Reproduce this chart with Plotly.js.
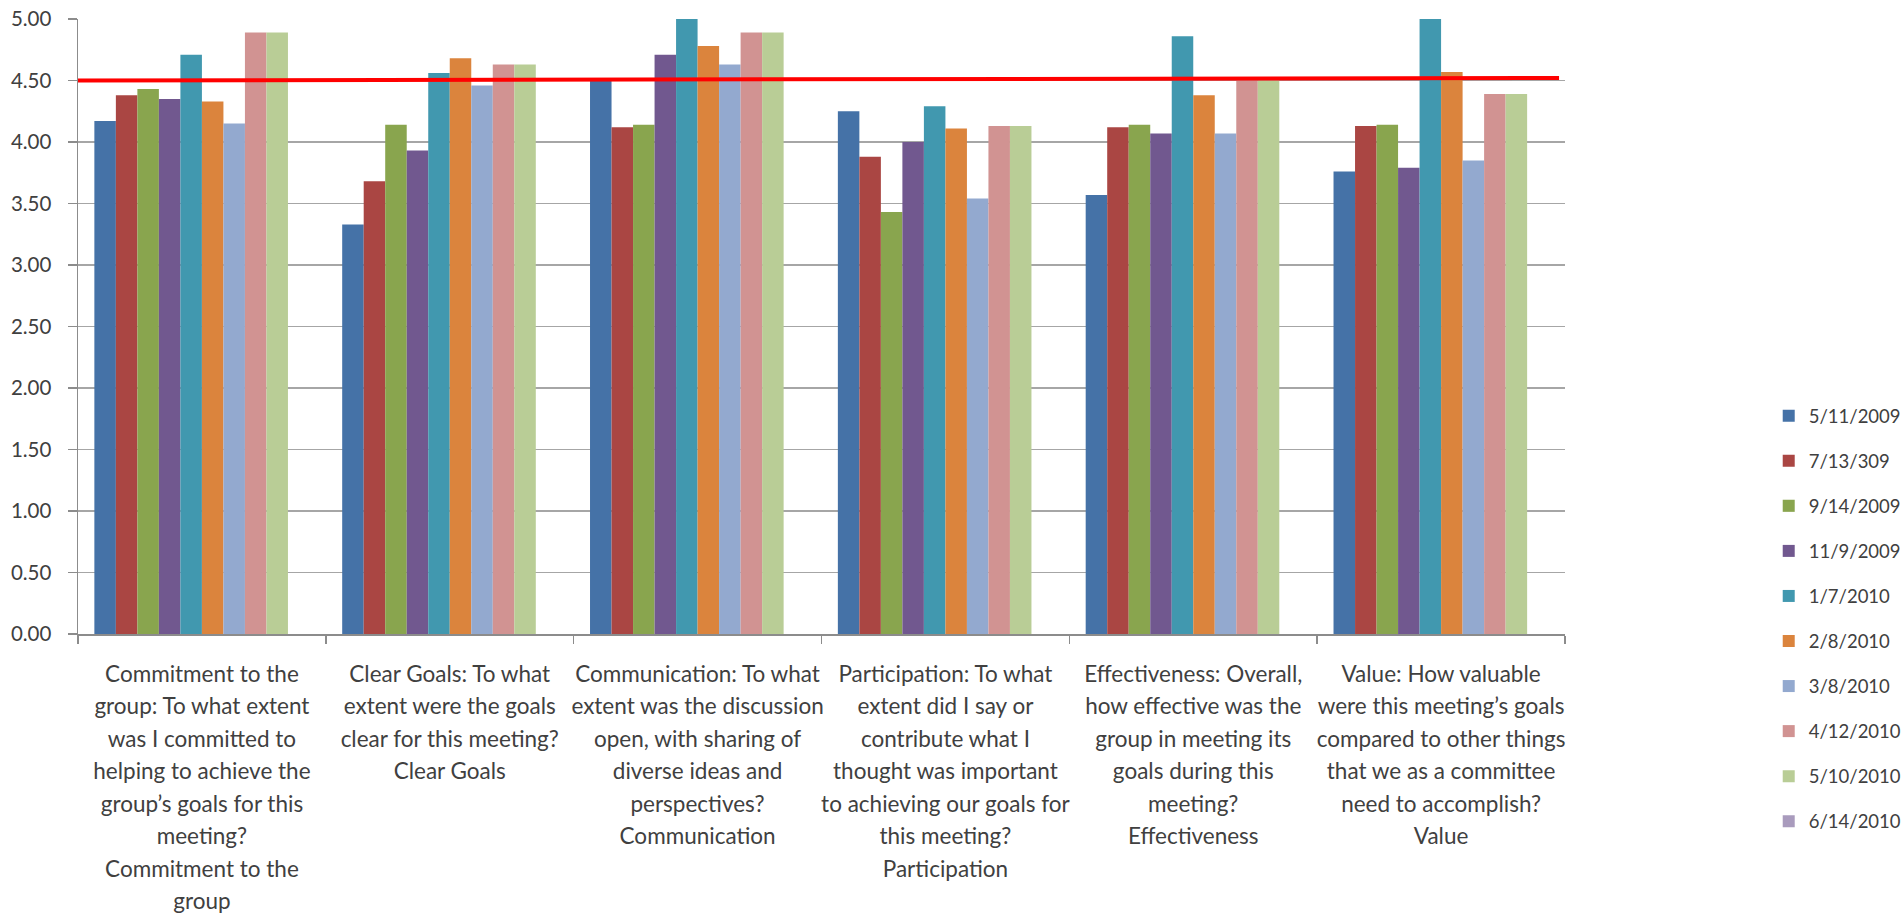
<!DOCTYPE html>
<html>
<head>
<meta charset="utf-8">
<script src="https://cdn.plot.ly/plotly-3.0.1.min.js"></script>
<style>
  html, body { margin: 0; padding: 0; background: #ffffff; }
  #chart { width: 1901px; height: 918px; }
</style>
</head>
<body>
<div id="chart"></div>
<script>
// Survey questions (category axis), one entry per wrapped line
const categoryLines = [
  ["Commitment to the", "group: To what extent", "was I committed to", "helping to achieve the",
   "group’s goals for this", "meeting?", "Commitment to the", "group"],
  ["Clear Goals: To what", "extent were the goals", "clear for this meeting?", "Clear Goals"],
  ["Communication: To what", "extent was the discussion", "open, with sharing of",
   "diverse ideas and", "perspectives?", "Communication"],
  ["Participation: To what", "extent did I say or", "contribute what I", "thought was important",
   "to achieving our goals for", "this meeting?", "Participation"],
  ["Effectiveness: Overall,", "how effective was the", "group in meeting its",
   "goals during this", "meeting?", "Effectiveness"],
  ["Value: How valuable", "were this meeting’s goals", "compared to other things",
   "that we as a committee", "need to accomplish?", "Value"]
];

// Meeting dates (legend labels)
const meetingDates = ["5/11/2009", "7/13/309", "9/14/2009", "11/9/2009", "1/7/2010",
                      "2/8/2010", "3/8/2010", "4/12/2010", "5/10/2010", "6/14/2010"];

// Average scores per meeting, one value per question
const scores_2009_05_11 = [4.17, 3.33, 4.50, 4.25, 3.57, 3.76];
const scores_2009_07_13 = [4.38, 3.68, 4.12, 3.88, 4.12, 4.13];
const scores_2009_09_14 = [4.43, 4.14, 4.14, 3.43, 4.14, 4.14];
const scores_2009_11_09 = [4.35, 3.93, 4.71, 4.00, 4.07, 3.79];
const scores_2010_01_07 = [4.71, 4.56, 5.00, 4.29, 4.86, 5.00];
const scores_2010_02_08 = [4.33, 4.68, 4.78, 4.11, 4.38, 4.57];
const scores_2010_03_08 = [4.15, 4.46, 4.63, 3.54, 4.07, 3.85];
const scores_2010_04_12 = [4.89, 4.63, 4.89, 4.13, 4.50, 4.39];
const scores_2010_05_10 = [4.89, 4.63, 4.89, 4.13, 4.50, 4.39];
const scores_2010_06_14 = [null, null, null, null, null, null];

// Target line level (start, end)
const targetLine = [4.50, 4.52];

// Y axis ticks
const yTicks = [0, 0.5, 1, 1.5, 2, 2.5, 3, 3.5, 4, 4.5, 5];

// Category keys: lines joined; the inner span keeps glyphs smaller than the line pitch
const categories = categoryLines.map(lines =>
  lines.map(l => '<span style="font-size:22.5px">' + l + '</span>').join("<br>"));

const allScores = [scores_2009_05_11, scores_2009_07_13, scores_2009_09_14, scores_2009_11_09,
                   scores_2010_01_07, scores_2010_02_08, scores_2010_03_08, scores_2010_04_12,
                   scores_2010_05_10, scores_2010_06_14];

const palette = ["#4572A7", "#AA4643", "#89A54E", "#71588F", "#4198AF",
                 "#DB843D", "#93A9CF", "#D19392", "#B9CD96", "#A99BBD"];

const traces = meetingDates.map((name, i) => ({
  type: "bar",
  name: name,
  legendgroup: name,
  x: categories,
  y: allScores[i],
  marker: { color: palette[i], line: { width: 0 } },
  hoverinfo: "name+y"
}));

const axisGrey = "#8c8c8c";
const textColor = "#404040";

const layout = {
  width: 1901,
  height: 918,
  margin: { l: 78, r: 336, t: 19, b: 284, pad: 0, autoexpand: false },
  paper_bgcolor: "#ffffff",
  plot_bgcolor: "#ffffff",
  font: { family: "Lato, 'Open Sans', sans-serif", color: textColor },
  barmode: "group",
  bargap: 0.132,
  bargroupgap: 0,
  showlegend: true,
  xaxis: {
    type: "category",
    automargin: false,
    showgrid: false,
    zeroline: false,
    showline: true,
    linecolor: axisGrey,
    linewidth: 1.5,
    ticks: "outside",
    tickson: "boundaries",
    ticklen: 8,
    tickwidth: 1.5,
    tickcolor: axisGrey,
    tickangle: 0,
    ticklabelstandoff: 16,
    tickfont: { size: 25, color: textColor }
  },
  yaxis: {
    range: [0, 5],
    automargin: false,
    tickmode: "array",
    tickvals: yTicks,
    tickformat: ".2f",
    showgrid: true,
    gridcolor: "#a6a6a6",
    gridwidth: 1.5,
    zeroline: false,
    showline: true,
    linecolor: axisGrey,
    linewidth: 1.5,
    ticks: "outside",
    ticklen: 9,
    tickwidth: 1.5,
    tickcolor: axisGrey,
    ticklabelstandoff: 12,
    tickfont: { size: 20.5, color: textColor }
  },
  legend: {
    x: 1.137,
    xanchor: "left",
    y: 0.385,
    yanchor: "top",
    traceorder: "grouped",
    tracegroupgap: 18,
    font: { size: 18.5, color: textColor },
    bgcolor: "rgba(0,0,0,0)"
  },
  shapes: [{
    type: "line",
    layer: "above",
    xref: "paper",
    x0: 0,
    x1: 0.996,
    yref: "y",
    y0: targetLine[0],
    y1: targetLine[1],
    line: { color: "#ff0000", width: 4 }
  }]
};

Plotly.newPlot("chart", traces, layout, { displayModeBar: false, staticPlot: true });
</script>
</body>
</html>
